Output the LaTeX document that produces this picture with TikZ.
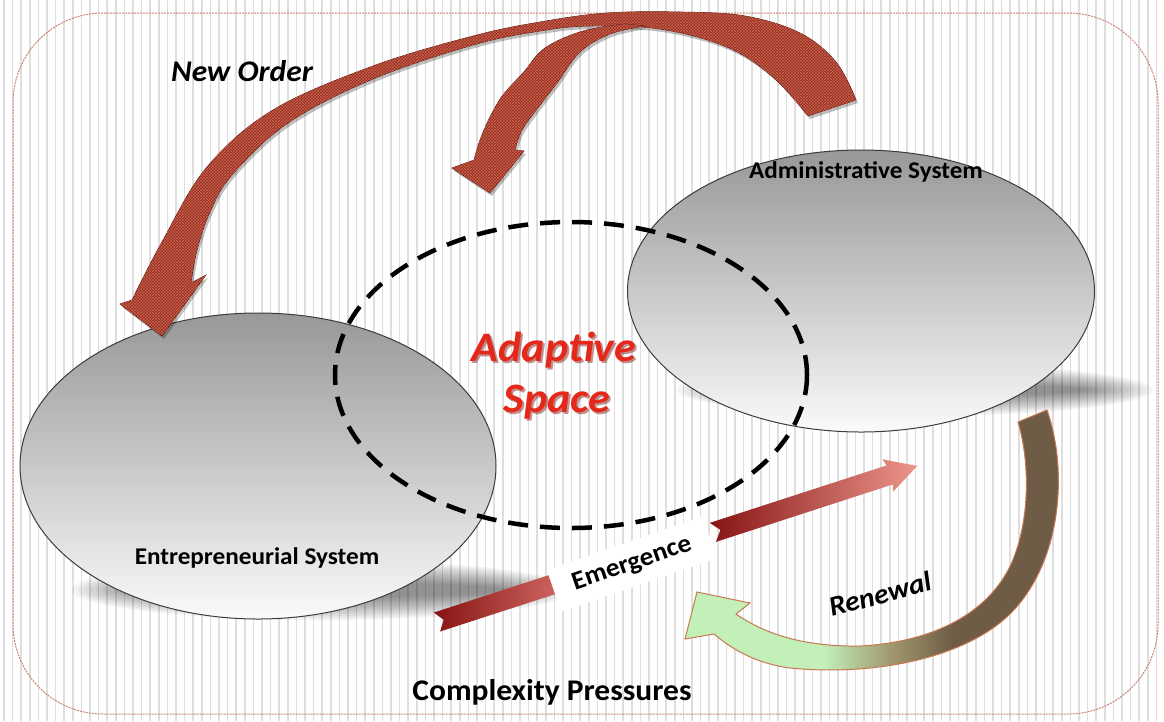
\documentclass[tikz,border=0pt]{standalone}
\usepackage{fontspec}
\setmainfont{Carlito}
\usetikzlibrary{shapes.geometric,patterns}

\definecolor{stripe}{RGB}{222,222,222}
\definecolor{frame}{RGB}{200,130,115}
\definecolor{elledge}{RGB}{60,60,60}
\definecolor{elltop}{RGB}{152,152,152}
\definecolor{ellbot}{RGB}{250,250,250}
\definecolor{ordfill}{RGB}{148,42,28}
\definecolor{ordweave}{RGB}{200,100,80}
\definecolor{ordedge}{RGB}{100,25,15}
\definecolor{emgdark}{RGB}{135,20,20}
\definecolor{emgmid}{RGB}{205,100,95}
\definecolor{emglight}{RGB}{236,150,140}
\definecolor{rendark}{RGB}{110,92,70}
\definecolor{renmid}{RGB}{160,150,110}
\definecolor{renlight}{RGB}{195,240,185}
\definecolor{renedge}{RGB}{200,120,80}
\definecolor{adred}{RGB}{228,40,25}
\definecolor{adshadow}{RGB}{120,10,5}

\pgfdeclarehorizontalshading{renewshade}{100bp}{color(0bp)=(renlight); color(43bp)=(renlight); color(52bp)=(renmid); color(60bp)=(rendark); color(100bp)=(rendark)}

\newcommand\wide[1]{\scalebox{1.05}[1]{#1}}

\tikzset{
  sysell/.style={ellipse, draw=elledge, line width=1pt, top color=elltop, bottom color=ellbot, inner sep=0pt},
  spacering/.style={ellipse, draw=black, line width=4.5pt, dash pattern=on 20pt off 12pt, inner sep=0pt},
  weave/.style={fill=ordfill, draw=ordedge, line width=0.6pt,
    preaction={fill=black, fill opacity=0.25, transform canvas={xshift=2pt, yshift=-3pt}},
    postaction={pattern=crosshatch, pattern color=ordweave}},
  lbl/.style={font=\bfseries\fontsize{24}{26}\selectfont, text=black, inner sep=0pt},
  bigital/.style={font=\bfseries\itshape\fontsize{30}{32}\selectfont, text=black, inner sep=0pt},
  adfont/.style={font=\bfseries\itshape\fontsize{42}{44}\selectfont, inner sep=0pt},
}

\begin{document}
\begin{tikzpicture}[x=1pt,y=-1pt]
\useasboundingbox (0,0) rectangle (1164,721);
\fill[white] (0,0) rectangle (1164,721);

% striped backdrop
\foreach \i in {0,...,135}
  \draw[stripe, line width=1.6pt] ({4+8.6*\i},0) -- ({4+8.6*\i},721);

% outer frame
\draw[frame, line width=1pt, dash pattern=on 2pt off 1pt, rounded corners=90pt]
  (13,13) rectangle (1158,714);

% soft shadows under the two systems
\foreach \k in {0,...,11} {
  \fill[black, fill opacity=0.045] (322,590) ellipse [x radius=250pt-6pt*\k, y radius=30pt-2pt*\k];
  \fill[black, fill opacity=0.045] (915,390) ellipse [x radius=238pt-6pt*\k, y radius=26pt-1.8pt*\k];
}

% the two systems
\node[sysell, minimum width=476pt, minimum height=306pt] (ent) at (258,466) {};
\node[sysell, minimum width=467pt, minimum height=282pt] (adm) at (861,291) {};

% adaptive space ring
\node[spacering, minimum width=472pt, minimum height=306pt] (adapt) at (571,375) {};

% New Order: main sweep from the administrative to the entrepreneurial system
\path[weave]
  plot[smooth, tension=0.6] coordinates {(856,100) (836,62) (800,33) (745,16) (680,12) (607,13) (540,22) (473,36) (373,66) (273,110) (207,167) (163,240) (132,300)}
  -- (120,304) -- (162,336) -- (206,275) --
  plot[smooth, tension=0.6] coordinates {(191,283) (197,250) (210,212) (232,175) (288,123) (373,79) (473,45) (540,31) (590,26) (660,29) (727,47) (773,77) (808,116)}
  -- cycle;

% New Order: branch turning down into the adaptive space
\path[weave]
  plot[smooth, tension=0.6] coordinates {(625,24) (583,31) (545,48) (523,73) (503,95) (490,117) (480,140) (474,160)}
  -- (452,168) -- (490,193) -- (524,151) --
  plot[smooth, tension=0.6] coordinates {(515,150) (522,130) (540,105) (557,83) (580,52) (610,34) (645,26)}
  -- cycle;

% Adaptive Space title
\node[adfont, text=adshadow, opacity=0.45] at (556,352) {\wide{Adaptive}};
\node[adfont, text=adred] (adlbl1) at (554,350) {\wide{Adaptive}};
\node[adfont, text=adshadow, opacity=0.45] at (559,404) {\wide{Space}};
\node[adfont, text=adred] (adlbl2) at (557,402) {\wide{Space}};

% Emergence ribbon
\begin{scope}[shift={(437,622)}, rotate=18]
  \shade[left color=emgdark, right color=emgmid]
    (0,-10) -- (123,-10) -- (123,10) -- (0,10) -- (7,0) -- cycle;
  \shade[left color=emgdark, right color=emglight]
    (290,-10) -- (476,-10) -- (474,-17) -- (505,0) -- (474,17) -- (476,10) -- (290,10) -- (298,0) -- cycle;
\end{scope}
\node[fill=white, rotate=19, minimum width=165pt, minimum height=44pt, inner sep=0pt,
      font=\bfseries\fontsize{26}{28}\selectfont] (emg) at (632,564) {\wide{Emergence}};

% Renewal loop back
\shadedraw[shading=renewshade, draw=renedge, line width=1pt]
  (1047,410) .. controls (1068,470) and (1062,560) .. (1012,612)
  .. controls (965,660) and (870,676) .. (790,668)
  .. controls (760,664) and (735,652) .. (714,634)
  -- (685,639) -- (697,592) -- (750,603) -- (736,614)
  .. controls (762,632) and (800,647) .. (860,646)
  .. controls (935,642) and (990,612) .. (1012,562)
  .. controls (1030,520) and (1030,462) .. (1018,422) -- cycle;

% labels
\node[lbl] (entlbl) at (257,558) {\wide{Entrepreneurial System}};
\node[lbl] (admlbl) at (866,172) {\wide{Administrative System}};
\node[bigital] (neworder) at (242,71) {\wide{New Order}};
\node[bigital, rotate=15, font=\bfseries\itshape\fontsize{28}{30}\selectfont] (renewal) at (880,594) {\wide{Renewal}};
\node[lbl, font=\bfseries\fontsize{30}{32}\selectfont] (pressures) at (552,692) {\wide{Complexity Pressures}};
\end{tikzpicture}
\end{document}
